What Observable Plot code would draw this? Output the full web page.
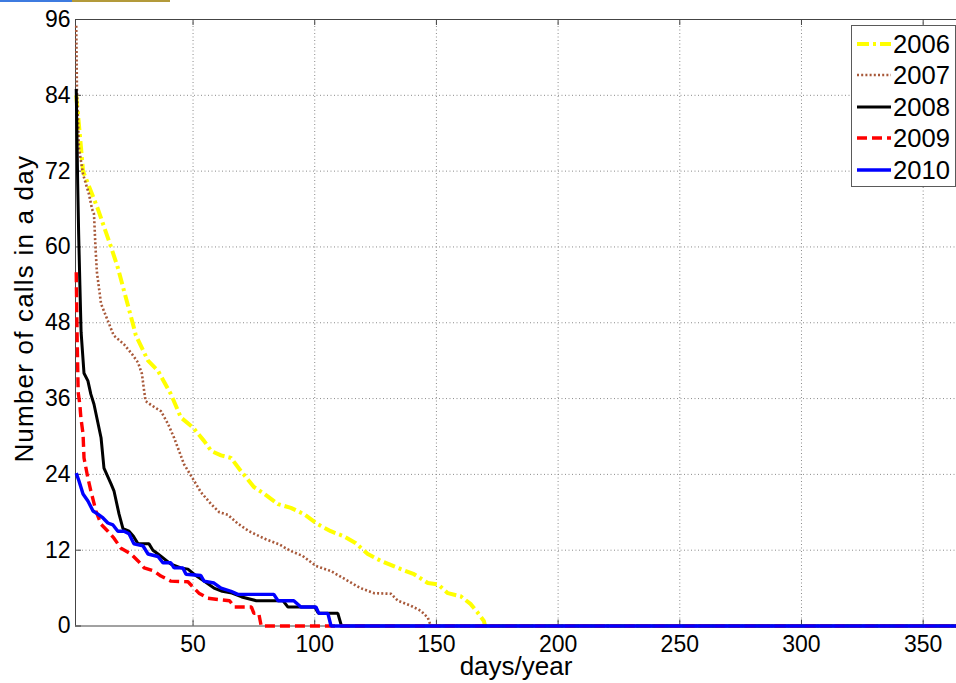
<!DOCTYPE html>
<html>
<head>
<meta charset="utf-8">
<script src="https://cdn.jsdelivr.net/npm/d3@7"></script>
<script src="https://cdn.jsdelivr.net/npm/@observablehq/plot@0.6"></script>
<style>
  body { margin: 0; background: #fff; }
  #wrap { position: relative; width: 956px; height: 683px; overflow: hidden; background: #fff;
          font-family: "Liberation Sans", Arial, sans-serif; }
  #wrap svg { display: block; }
  .topbar { position: absolute; top: 0; height: 2px; }
  #legend { position: absolute; left: 851px; top: 25px; width: 105px; height: 162px; box-sizing: border-box;
            border: 1px solid #5a5a5a; background: #fff; }
  .entry { position: absolute; left: 0; height: 30px; line-height: 30px; font-size: 25.6px; color: #000; white-space: nowrap; }
  .entry svg { position: absolute; left: 5px; top: 10px; }
  .entry span { position: absolute; left: 41px; top: 0; }
</style>
</head>
<body>
<div id="wrap"></div>
<script>
// ---- data (rank of day, number of calls) ----
const years = ["2006", "2007", "2008", "2009", "2010"];

const days2006  = [2, 3.9, 4.8, 10.9, 16.3, 19.1, 25.3, 26.5, 31.5, 35.6, 40.9, 45, 50, 54.5, 57.5, 61.5, 65.6, 69.7, 72.5, 75, 79, 84.9, 90.2, 95.6, 101.3, 106.6, 112, 116.9, 121.8, 127.2, 135.4, 140.8, 146.5, 150.6, 154.7, 160, 164, 167, 169.5, 170, 365];
const calls2006 = [84, 76, 72, 66, 60, 56.7, 47.8, 46, 42, 40.4, 36.7, 33, 31.4, 29.3, 27.7, 27, 26.6, 24.5, 23.2, 22, 21, 19.3, 18.7, 17.7, 16.1, 15, 14.2, 13.1, 11.4, 10.3, 9, 8.2, 6.8, 6.6, 5.2, 4.7, 3.5, 2.1, 0.8, 0, 0];

const days2007  = [2, 2.3, 3.1, 4.8, 7.2, 8.5, 9.3, 9.9, 10.5, 12.2, 15, 17.4, 21.6, 25, 27.4, 29, 29.8, 30.5, 32.7, 36.8, 39.7, 42.2, 46.3, 50.4, 53.2, 57.4, 60.8, 64.3, 68.4, 73, 79.5, 85.5, 90, 95, 100.5, 106.6, 112.5, 118.8, 124.3, 131.3, 134.2, 139.5, 143.6, 146.5, 147.7, 365];
const calls2007 = [95, 84.7, 75.7, 71.5, 68.4, 66, 65.2, 60, 56, 51, 48.3, 46, 44.6, 43, 41.7, 39.9, 37.5, 35.6, 35, 34, 32, 29.8, 25.6, 23, 21.2, 19.3, 18, 17.6, 16.2, 15, 13.8, 12.9, 11.9, 11.1, 9.5, 8.7, 7.4, 6, 5.2, 5.1, 4, 3.2, 2.4, 1.3, 0, 0];

const days2008  = [2, 2.6, 3, 3.5, 4, 5.2, 6.8, 8, 9.3, 12.2, 13.4, 16.3, 17.5, 19.6, 21.2, 23.7, 25.5, 27.4, 31.9, 33.5, 35.6, 40.9, 45, 47.9, 50.4, 54.5, 58.6, 62, 66, 70, 76, 87, 89, 100, 101.5, 109.5, 111, 365];
const calls2008 = [85, 70, 62, 54, 46.5, 40, 38.8, 36.7, 35.1, 29.8, 25, 22.5, 21.4, 17.7, 15.4, 15, 14.2, 13, 13, 12, 11.4, 9.8, 9.2, 9, 8.2, 7.1, 6, 5.5, 5.2, 4.6, 4, 4, 3, 3, 2, 2, 0, 0];

const days2009  = [2, 2.4, 2.8, 3.5, 3.9, 4.8, 5.2, 6.8, 8, 10.1, 12.2, 15, 17.5, 20.4, 24.5, 27.4, 29.9, 34, 36.8, 40.9, 47.9, 50.4, 52.4, 56.1, 60.2, 65, 67, 74, 75, 77, 78, 365];
const calls2009 = [56, 45, 37, 35, 33, 30.4, 26.6, 23.4, 21.4, 18.2, 16.1, 15, 13.9, 12.3, 11.4, 10.3, 9.2, 8.7, 7.9, 7.1, 7, 6, 5.2, 4.4, 4.2, 4, 3, 3, 2, 2, 0, 0];

const days2010  = [2, 3.1, 4.8, 6.8, 8.9, 10.9, 13, 15, 17.1, 19.1, 21.6, 23.7, 25.7, 29.4, 31.5, 35.6, 37.6, 40.9, 42.2, 45.8, 47.1, 53.2, 54.5, 58.6, 61.5, 65.6, 68.4, 83.2, 84.9, 91.4, 94.3, 100.5, 101.7, 105.4, 106.7, 365];
const calls2010 = [24.2, 23, 20.9, 19.8, 18.2, 17.7, 17.1, 16.3, 16, 15, 15, 14.6, 13, 12.7, 11.4, 11, 10, 10, 9.2, 9.2, 8.2, 8, 7.1, 6.8, 6, 5.5, 5, 5, 4, 4, 3, 3, 2, 2, 0, 0];

const xTicks = [50, 100, 150, 200, 250, 300, 350];
const yTicks = [0, 12, 24, 36, 48, 60, 72, 84, 96];
const xLabel = "days/year";
const yLabel = "Number of calls in a day";

// ---- build a table from the arrays ----
const dayArrays = [days2006, days2007, days2008, days2009, days2010];
const callArrays = [calls2006, calls2007, calls2008, calls2009, calls2010];
const rows = years.flatMap((yr, i) => dayArrays[i].map((d, j) => ({year: yr, day: d, calls: callArrays[i][j]})));

// ---- styles ----
const styles = {
  "2006": {stroke: "#ffff00", strokeWidth: 4, dash: "12,4,3,4"},
  "2007": {stroke: "#a8593a", strokeWidth: 2.6, dash: "2,2.2"},
  "2008": {stroke: "#000000", strokeWidth: 3, dash: null},
  "2009": {stroke: "#ff0000", strokeWidth: 3.4, dash: "10,5"},
  "2010": {stroke: "#0000ff", strokeWidth: 3.4, dash: null}
};

const W = 956, H = 683;
const mL = 75, mR = 0, mT = 19, mB = 57.5;
const plotW = W - mL - mR, plotH = H - mT - mB;
const xDomain = [1.7, 363.7];
const axisColor = "#444";

const lineMarks = years.map(yr => Plot.line(rows.filter(r => r.year === yr), {
  x: "day", y: "calls",
  stroke: styles[yr].stroke, strokeWidth: styles[yr].strokeWidth,
  strokeDasharray: styles[yr].dash || undefined,
  strokeLinejoin: "miter", strokeLinecap: "butt"
}));

const chart = Plot.plot({
  width: W, height: H,
  marginLeft: mL, marginRight: mR, marginTop: mT, marginBottom: mB,
  x: {domain: xDomain, label: null},
  y: {domain: [0, 96], label: null},
  style: {fontFamily: "'Liberation Sans', Arial, sans-serif", fontSize: "23px", color: "#000", background: "#fff"},
  marks: [
    Plot.gridX(xTicks, {stroke: "#8a8a8a", strokeOpacity: 1, strokeDasharray: "1,2.5"}),
    Plot.gridY(yTicks.filter(v => v > 0 && v < 96), {stroke: "#8a8a8a", strokeOpacity: 1, strokeDasharray: "1,2.5"}),
    Plot.ruleX([xDomain[0]], {stroke: axisColor}),
    Plot.ruleY([0, 96], {stroke: axisColor}),
    Plot.tickX(xTicks, {x: d => d, insetTop: plotH - 6, stroke: axisColor}),
    Plot.tickX(xTicks, {x: d => d, insetBottom: plotH - 6, stroke: axisColor}),
    Plot.tickY(yTicks, {y: d => d, insetRight: plotW - 6, stroke: axisColor}),
    ...lineMarks,
    Plot.axisX(xTicks, {tickSize: 0, tickPadding: 10, fontSize: 23, label: null}),
    Plot.axisY(yTicks, {tickSize: 0, tickPadding: 5, fontSize: 23, label: null}),
    Plot.text([xLabel], {text: d => d, frameAnchor: "bottom", textAnchor: "middle", dy: 49, fontSize: 26}),
    Plot.text([yLabel], {text: d => d, frameAnchor: "left", textAnchor: "middle", rotate: -90, dx: -51, dy: -14, fontSize: 26})
  ]
});

const wrap = document.getElementById("wrap");
wrap.appendChild(chart);

// slightly wider spacing of the rotated y-axis title, as in the reference
d3.select(chart).selectAll("text").filter(function () { return this.textContent === yLabel; })
  .style("letter-spacing", "1.2px");

// thin strip at the very top of the reference image
const bar1 = document.createElement("div");
bar1.className = "topbar"; bar1.style.left = "0px"; bar1.style.width = "72px"; bar1.style.background = "#3d7be0";
const bar2 = document.createElement("div");
bar2.className = "topbar"; bar2.style.left = "72px"; bar2.style.width = "98px"; bar2.style.background = "#b39a3a";
wrap.appendChild(bar1); wrap.appendChild(bar2);

// legend
const legend = document.createElement("div");
legend.id = "legend";
years.forEach((yr, i) => {
  const s = styles[yr];
  const e = document.createElement("div");
  e.className = "entry";
  e.style.top = (2.5 + i * 31.5) + "px";
  e.style.width = "103px";
  e.innerHTML = `<svg width="34" height="10"><line x1="0" y1="5" x2="34" y2="5" stroke="${s.stroke}" stroke-width="${s.strokeWidth}" ${s.dash ? `stroke-dasharray="${s.dash}"` : ""}/></svg><span>${yr}</span>`;
  legend.appendChild(e);
});
wrap.appendChild(legend);
</script>
</body>
</html>
